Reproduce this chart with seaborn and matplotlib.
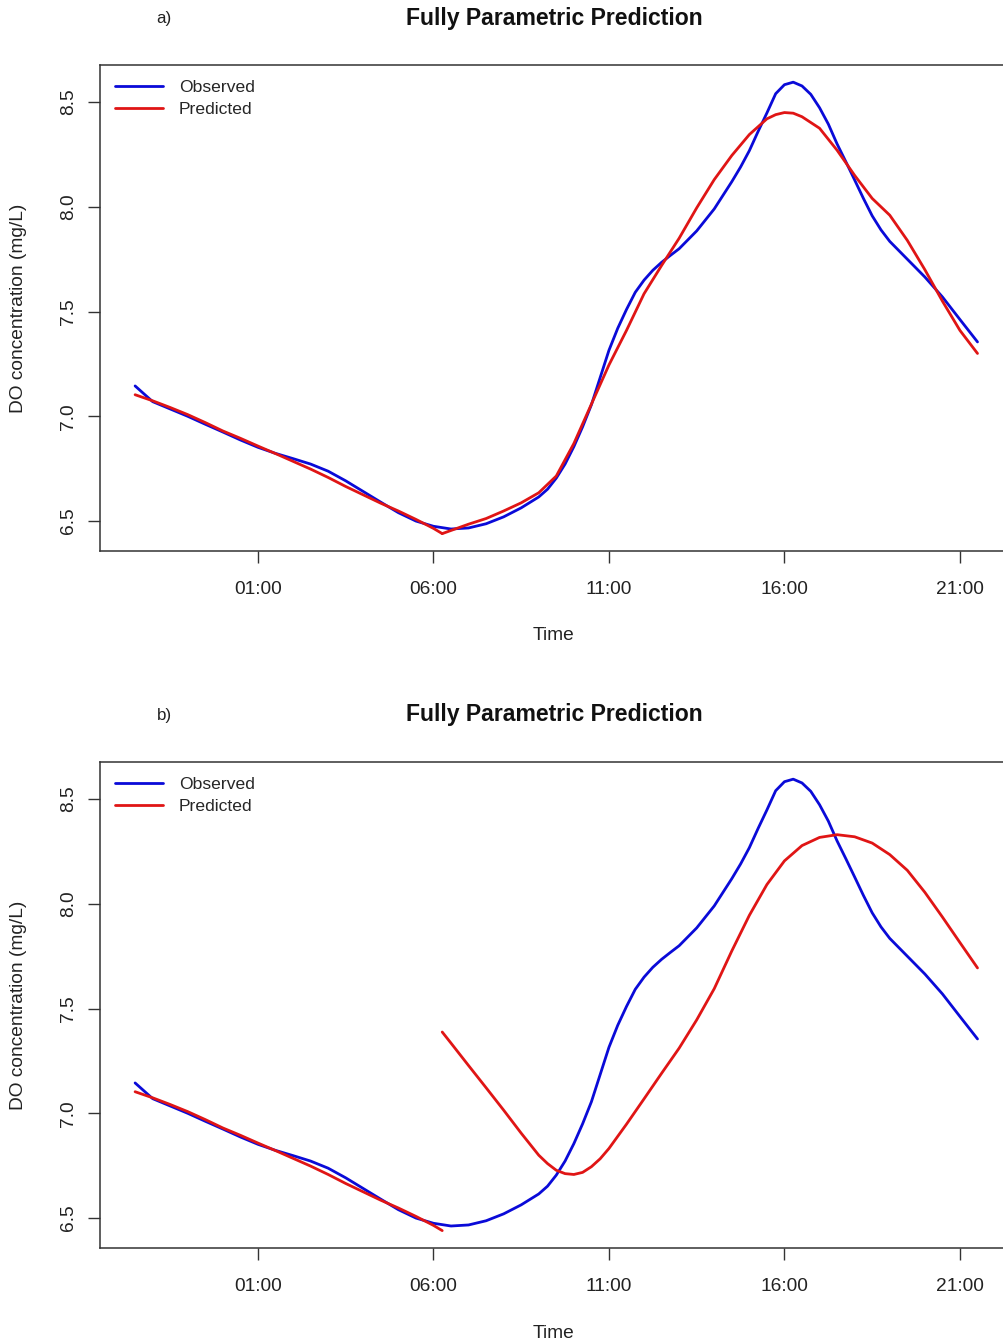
import matplotlib
matplotlib.use("Agg")
import matplotlib.pyplot as plt
import pandas as pd
import seaborn as sns
from matplotlib.lines import Line2D

# Time axis in hours relative to midnight (negative = previous evening)
hours_obs = [-2.5, -2.0, -1.5, -1.0, -0.5, 0.0, 0.5, 1.0, 1.5, 2.0, 2.5, 3.0,
             3.5, 4.0, 4.5, 5.0, 5.5, 6.0, 6.5, 7.0, 7.5, 8.0, 8.5, 9.0, 9.25,
             9.5, 9.75, 10.0, 10.25, 10.5, 10.75, 11.0, 11.25, 11.5, 11.75,
             12.0, 12.25, 12.5, 12.75, 13.0, 13.5, 14.0, 14.5, 14.75, 15.0,
             15.25, 15.5, 15.75, 16.0, 16.25, 16.5, 16.75, 17.0, 17.25, 17.5,
             17.75, 18.0, 18.25, 18.5, 18.75, 19.0, 19.5, 20.0, 20.5, 21.0,
             21.5]
do_observed = [7.145, 7.070, 7.035, 7.000, 6.962, 6.925, 6.887, 6.852, 6.823,
               6.798, 6.772, 6.738, 6.692, 6.641, 6.590, 6.540, 6.500, 6.475,
               6.462, 6.467, 6.487, 6.520, 6.563, 6.615, 6.652, 6.705, 6.772,
               6.855, 6.950, 7.055, 7.185, 7.315, 7.420, 7.510, 7.592, 7.650,
               7.697, 7.735, 7.768, 7.800, 7.885, 7.990, 8.120, 8.190, 8.268,
               8.360, 8.448, 8.540, 8.583, 8.595, 8.577, 8.537, 8.473, 8.395,
               8.300, 8.215, 8.128, 8.040, 7.957, 7.890, 7.835, 7.750, 7.665,
               7.570, 7.462, 7.355]

# Prediction over the first part of the day (same in both panels)
hours_pred_early = [-2.5, -2.0, -1.5, -1.0, -0.5, 0.0, 0.5, 1.0, 1.5, 2.0,
                    2.5, 3.0, 3.5, 4.0, 4.5, 5.0, 5.5, 6.0, 6.25]
do_pred_early = [7.103, 7.074, 7.042, 7.008, 6.970, 6.930, 6.895, 6.858, 6.822,
                 6.785, 6.748, 6.708, 6.665, 6.625, 6.585, 6.548, 6.508, 6.465,
                 6.440]

# Prediction over the rest of the day, panel a
hours_pred_late_a = [6.25, 6.5, 7.0, 7.5, 8.0, 8.5, 9.0, 9.5, 10.0, 10.5, 11.0,
                     11.5, 12.0, 12.5, 13.0, 13.5, 14.0, 14.5, 15.0, 15.5,
                     15.75, 16.0, 16.25, 16.5, 17.0, 17.5, 18.0, 18.5, 19.0,
                     19.5, 20.0, 20.5, 21.0, 21.5]
do_pred_late_a = [6.440, 6.455, 6.485, 6.512, 6.548, 6.587, 6.635, 6.715, 6.870,
                  7.058, 7.245, 7.410, 7.585, 7.720, 7.850, 7.995, 8.130, 8.245,
                  8.345, 8.420, 8.440, 8.450, 8.447, 8.430, 8.375, 8.270, 8.150,
                  8.040, 7.960, 7.840, 7.700, 7.550, 7.410, 7.300]

# Prediction over the rest of the day, panel b
hours_pred_late_b = [6.25, 6.5, 7.0, 7.5, 8.0, 8.5, 9.0, 9.25, 9.5, 9.75, 10.0,
                     10.25, 10.5, 10.75, 11.0, 11.5, 12.0, 12.5, 13.0, 13.5,
                     14.0, 14.5, 15.0, 15.5, 16.0, 16.5, 17.0, 17.5, 18.0,
                     18.5, 19.0, 19.5, 20.0, 20.5, 21.0, 21.5]
do_pred_late_b = [7.388, 7.335, 7.228, 7.122, 7.015, 6.905, 6.800, 6.760, 6.728,
                  6.712, 6.708, 6.718, 6.745, 6.783, 6.832, 6.948, 7.069, 7.191,
                  7.311, 7.446, 7.595, 7.775, 7.945, 8.092, 8.205, 8.278, 8.317,
                  8.330, 8.320, 8.290, 8.235, 8.160, 8.055, 7.937, 7.815, 7.694]

tick_hours = [1, 6, 11, 16, 21]
tick_labels = ["01:00", "06:00", "11:00", "16:00", "21:00"]
y_ticks = [6.5, 7.0, 7.5, 8.0, 8.5]
panel_tags = ["a)", "b)"]
title_text = "Fully Parametric Prediction"
x_label = "Time"
y_label = "DO concentration (mg/L)"
series_names = ["Observed", "Predicted"]

BLUE = "#0a0ad8"
RED = "#e01515"
AXCOL = "#333333"

sns.set_style("white")
plt.rcParams["font.family"] = ["Liberation Sans", "DejaVu Sans"]

W, H = 1004, 1344
fig = plt.figure(figsize=(W / 100, H / 100), dpi=100)

obs_df = pd.DataFrame({"hour": hours_obs, "do": do_observed})
early_df = pd.DataFrame({"hour": hours_pred_early, "do": do_pred_early})
late_frames = [
    pd.DataFrame({"hour": hours_pred_late_a, "do": do_pred_late_a}),
    pd.DataFrame({"hour": hours_pred_late_b, "do": do_pred_late_b}),
]

# axes placement in pixels: left, top, width, height
x_min, x_max = -3.5, 22.45
px_per_hour = 35.1
ax_w = (x_max - x_min) * px_per_hour
panel_tops = [65, 762]
ax_h = 486

for top, late_df, tag in zip(panel_tops, late_frames, panel_tags):
    ax = fig.add_axes([100 / W, 1 - (top + ax_h) / H, ax_w / W, ax_h / H])
    sns.lineplot(data=obs_df, x="hour", y="do", ax=ax, color=BLUE, lw=2.0,
                 estimator=None, sort=False)
    sns.lineplot(data=early_df, x="hour", y="do", ax=ax, color=RED, lw=2.0,
                 estimator=None, sort=False)
    sns.lineplot(data=late_df, x="hour", y="do", ax=ax, color=RED, lw=2.0,
                 estimator=None, sort=False)

    ax.set_xlim(x_min, x_max)
    ax.set_ylim(6.357, 8.677)
    ax.set_xticks(tick_hours)
    ax.set_xticklabels(tick_labels)
    ax.set_yticks(y_ticks)
    ax.set_yticklabels([f"{v:.1f}" for v in y_ticks], rotation=90, va="center")

    for side in ("top", "left", "bottom", "right"):
        ax.spines[side].set_color(AXCOL)
        ax.spines[side].set_linewidth(1.1)
    ax.tick_params(axis="both", direction="out", length=8.6, width=1.0,
                   color=AXCOL, labelsize=13.8, labelcolor="#222222")
    ax.tick_params(axis="x", bottom=True, pad=13)
    ax.tick_params(axis="y", left=True, pad=8)

    ax.set_xlabel(x_label, fontsize=13.8, color="#222222")
    ax.set_ylabel(y_label, fontsize=13.8, color="#222222")
    ax.xaxis.label.set_va("center")
    ax.yaxis.label.set_va("center")
    ax.xaxis.set_label_coords((554 - 100) / ax_w, -(636 - 551) / ax_h)
    ax.yaxis.set_label_coords((18 - 100) / ax_w, 0.5)

    ax.text((554 - 100) / ax_w, 1 + 47 / ax_h, title_text, transform=ax.transAxes,
            ha="center", va="center", fontsize=16.6, fontweight="bold",
            color="#111111")
    fig.text(164 / W, 1 - (top - 47) / H, tag, ha="center", va="center",
             fontsize=12.2, color="#222222")

    handles = [Line2D([], [], color=BLUE, lw=2.0), Line2D([], [], color=RED, lw=2.0)]
    ax.legend(handles, series_names, loc="upper left",
              bbox_to_anchor=(15 / ax_w, 1 - 15 / ax_h), frameon=False,
              fontsize=12.6, handlelength=2.75, handletextpad=0.9,
              labelspacing=0.35, borderpad=0, borderaxespad=0)

fig.savefig("out.png", dpi=100, facecolor="white")
